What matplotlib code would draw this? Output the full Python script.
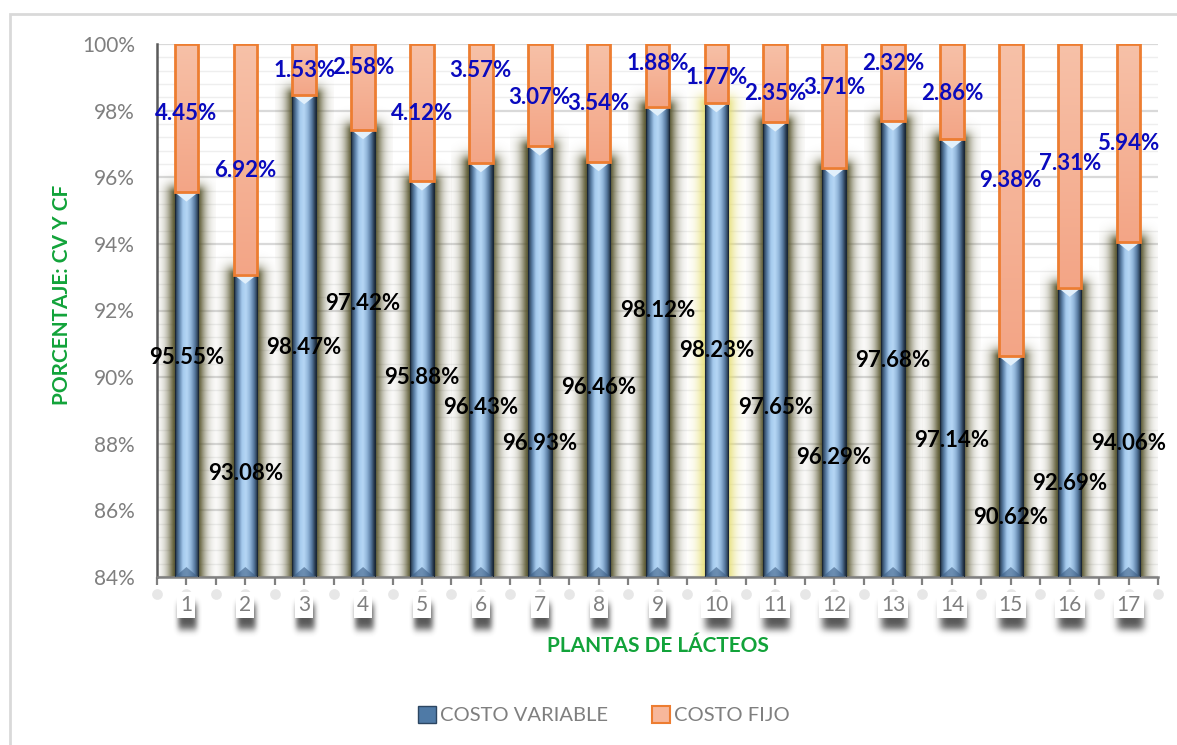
import numpy as np
import matplotlib.pyplot as plt
from matplotlib.colors import LinearSegmentedColormap, to_rgb
from matplotlib.patches import Rectangle, Polygon, Patch
import matplotlib.transforms as mtransforms

plt.rcParams['font.family'] = ['Lato', 'DejaVu Sans']

plantas = [str(i) for i in range(1, 18)]
costo_variable = [95.55, 93.08, 98.47, 97.42, 95.88, 96.43, 96.93, 96.46, 98.12,
                  98.23, 97.65, 96.29, 97.68, 97.14, 90.62, 92.69, 94.06]
costo_fijo = [4.45, 6.92, 1.53, 2.58, 4.12, 3.57, 3.07, 3.54, 1.88,
              1.77, 2.35, 3.71, 2.32, 2.86, 9.38, 7.31, 5.94]

# where the labels sit (they were moved by hand in the original)
y_lab_cv = [90.6, 87.1, 90.9, 92.2, 90.0, 89.1, 88.0, 89.7, 92.0,
            90.8, 89.1, 87.6, 90.5, 88.1, 85.8, 86.8, 88.0]
y_lab_cf = [97.9, 96.2, 99.2, 99.3, 97.9, 99.2, 98.4, 98.2, 99.4,
            99.0, 98.5, 98.7, 99.4, 98.5, 95.9, 96.4, 97.0]

YMIN, YMAX = 84, 100
W = 0.4
gris = '#7f7f7f'
verde = '#12a33a'

fig = plt.figure(figsize=(11.77, 7.45), dpi=100)
ax = fig.add_axes([157/1177, 1-577/745, 1001/1177, 533/745])

x = np.arange(len(plantas))
cmap_cv = LinearSegmentedColormap.from_list('cv', ['#1f2e40', '#587ca3', '#a6cbee', '#b6d7f5',
                                                   '#92b6da', '#56799f', '#1c2a3a'])
cmap_cf = LinearSegmentedColormap.from_list('cf', ['#f3a586', '#f7c1a8'])

# shadow glow around the CV bars
gx = np.linspace(-0.5, 0.5, 120)
for i, v in enumerate(costo_variable):
    top = v + 0.9
    gy = np.linspace(YMIN, top, 200)
    X, Y = np.meshgrid(gx, gy)
    dx = np.clip(np.abs(X) - W/2, 0, None) * 58.9
    dy = np.clip(Y - v, 0, None) * 33.3
    d = np.sqrt(dx**2 + dy**2)
    col = '#e4dc6a' if i == 9 else '#55522a'
    a = (0.8 if i == 9 else 0.95) * np.exp(-(d / 8.0)**1.5)
    img = np.zeros(X.shape + (4,))
    img[..., :3] = to_rgb(col)
    img[..., 3] = a
    ax.imshow(img, extent=[i-0.5, i+0.5, YMIN, top], origin='lower',
              aspect='auto', zorder=1, interpolation='bilinear')

# CV bars (cylinder look)
grad = np.linspace(0, 1, 256).reshape(1, -1)
for i, v in enumerate(costo_variable):
    ax.imshow(grad, extent=[i-W/2, i+W/2, YMIN, v], cmap=cmap_cv,
              aspect='auto', zorder=2, interpolation='bicubic')
    ax.add_patch(Rectangle((i-W/2, YMIN), W, v-YMIN, fill=False,
                           edgecolor='#1a2737', lw=0.8, zorder=3))
    ax.add_patch(Polygon([(i-W/2, v), (i+W/2, v), (i, v-0.28)],
                         closed=True, facecolor='#e2f0fb', edgecolor='none', zorder=3))
    ax.add_patch(Polygon([(i-W/2, YMIN), (i+W/2, YMIN), (i, YMIN+0.3)],
                         closed=True, facecolor='#3c5e85', alpha=0.6,
                         edgecolor='none', zorder=3))

# CF bars
vgrad = np.linspace(0, 1, 256).reshape(-1, 1)
for i, (v, f) in enumerate(zip(costo_variable, costo_fijo)):
    ax.imshow(vgrad, extent=[i-W/2, i+W/2, v, v+f], cmap=cmap_cf, origin='lower',
              aspect='auto', zorder=2)
    ax.add_patch(Rectangle((i-W/2, v), W, f, fill=False,
                           edgecolor='#ed7d31', lw=2, zorder=3))

# data labels
for i in x:
    ax.text(i, y_lab_cv[i], f'{costo_variable[i]:.2f}%', ha='center', va='center',
            fontsize=16, fontweight='bold', color='black', zorder=5)
    ax.text(i, y_lab_cf[i], f'{costo_fijo[i]:.2f}%', ha='center', va='center',
            fontsize=16, fontweight='bold', color='#0a0abe', zorder=5)

ax.set_yticks(np.arange(84, 101, 2))
ax.set_yticks(np.arange(84, 100.01, 0.4), minor=True)
ax.set_yticklabels([f'{t}%' for t in range(84, 101, 2)], fontsize=15, color=gris)
ax.grid(axis='y', which='major', color='#d9d9d9', lw=1.6, zorder=0)
ax.grid(axis='y', which='minor', color='#eeeeee', lw=1.0, zorder=0)
ax.set_axisbelow(True)
ax.tick_params(axis='y', which='both', length=0, pad=16)

ax.set_xticks(x)
ax.set_xticklabels([])
ax.set_xticks(np.arange(-0.5, len(plantas), 1), minor=True)
ax.tick_params(axis='x', which='both', length=6, width=1.6, color='#808080')

for s in ['top', 'right']:
    ax.spines[s].set_visible(False)
ax.spines['left'].set_color('#5a5a5a')
ax.spines['left'].set_linewidth(1.8)
ax.spines['bottom'].set_color('#808080')
ax.spines['bottom'].set_linewidth(1.8)

# tick labels with white box and soft blurred shadow underneath
trans = mtransforms.blended_transform_factory(ax.transData, ax.transAxes)
allticks = np.arange(-0.5, len(plantas), 0.5)
ax.scatter(allticks, np.full(len(allticks), -0.031), s=60, color='#e2e2e2',
           alpha=0.8, transform=trans, clip_on=False, zorder=1, linewidths=0)
px = 1 / 33.31  # one pixel in data units on y
sx = np.linspace(-1, 1, 60)
sy = np.linspace(-1, 1, 50)
SX, SY = np.meshgrid(sx, sy)
for i, lab in enumerate(plantas):
    hw = 0.24 if len(lab) == 1 else 0.34
    sh = np.zeros(SX.shape + (4,))
    sh[..., :3] = to_rgb('#2e2e2e')
    sh[..., 3] = 0.8 * np.exp(-(np.abs(SX) / 0.7)**4) * np.exp(-(np.abs(SY) / 0.7)**4)
    im = ax.imshow(sh, extent=[i + 0.02 - hw, i + 0.02 + hw, YMIN - 60*px, YMIN - 20*px],
                   aspect='auto', zorder=4, interpolation='bilinear')
    im.set_clip_on(False)
    ax.text(i, -0.053, lab, transform=trans, ha='center', va='center', fontsize=15,
            color=gris, clip_on=False, zorder=6,
            bbox=dict(boxstyle='square,pad=0.14', fc='white', ec='none'))

ax.set_xlim(-0.5, len(plantas)-0.5)
ax.set_ylim(YMIN, YMAX)

fig.text(62/1177, 1-295/745, 'PORCENTAJE: CV Y CF', rotation=90, ha='center', va='center',
         fontsize=15, fontweight='bold', color=verde)
fig.text(658/1177, 1-646/745, 'PLANTAS DE LÁCTEOS', ha='center', va='center',
         fontsize=15, fontweight='bold', color=verde)

handles = [Patch(facecolor='#4f7aa6', edgecolor='#2c4662', lw=1),
           Patch(facecolor='#f7b79b', edgecolor='#ed7d31', lw=1.5)]
fig.legend(handles, ['COSTO VARIABLE', 'COSTO FIJO'], loc='center',
           bbox_to_anchor=(604/1177, 1-715/745), ncol=2, frameon=False, fontsize=14.5,
           labelcolor=gris, handlelength=0.9, handleheight=0.9, handletextpad=0.2,
           columnspacing=2.2)

fig.add_artist(Rectangle((10/1177, -0.1), 1.2, 1.1 - 14/745, transform=fig.transFigure,
                         fill=False, edgecolor='#d9d9d9', lw=2))

fig.savefig('out.png', dpi=100)
